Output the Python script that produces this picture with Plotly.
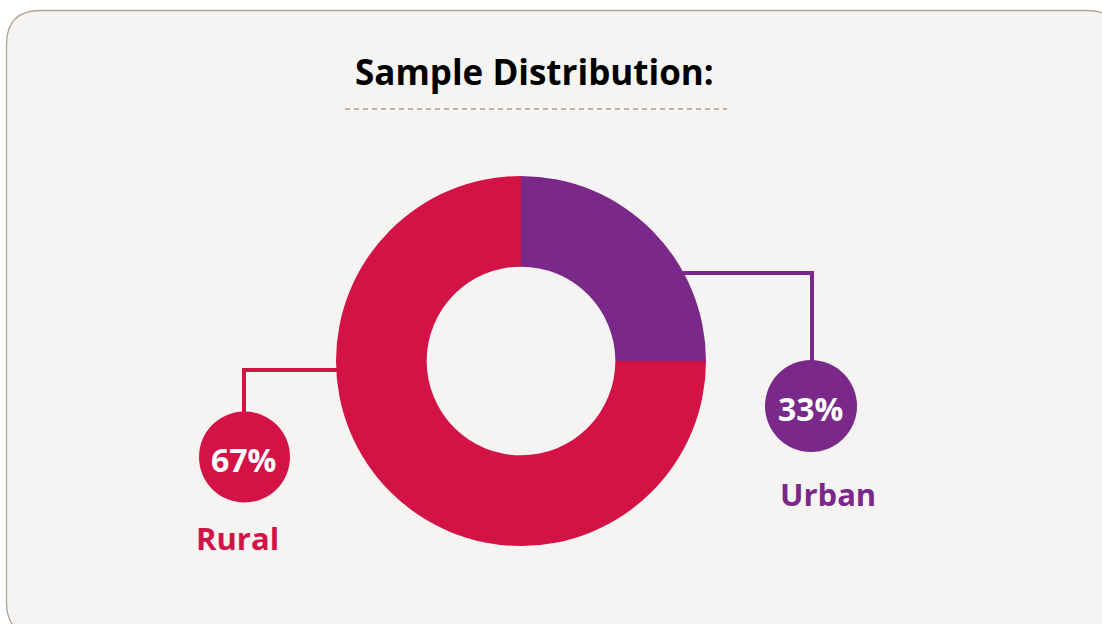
import plotly.graph_objects as go

# ---- data ----
categories = ["Urban", "Rural"]
share_labels = ["33%", "67%"]
drawn_shares = [25, 75]          # slice sizes as drawn in the reference
slice_colors = ["#7a2889", "#d31245"]
title_text = "Sample Distribution:"

W, H = 1102, 624
FONT = "Open Sans"

fig = go.Figure()

# donut geometry (pixels)
cx, cy, R = 521, 361, 185
fig.add_trace(go.Pie(
    labels=categories, values=drawn_shares, sort=False, direction="clockwise",
    rotation=0, hole=0.51, textinfo="none", hoverinfo="skip", showlegend=False,
    marker=dict(colors=slice_colors, line=dict(width=0)),
    domain=dict(x=[(cx - R) / W, (cx + R) / W], y=[(H - cy - R) / H, (H - cy + R) / H]),
))

shapes = []
# card
x0, y0, x1, y1, r = 6.5, 10.5, 1121, 636, 34
card = (f"M {x0+r},{y0} L {x1-r},{y0} Q {x1},{y0} {x1},{y0+r} L {x1},{y1-r} "
        f"Q {x1},{y1} {x1-r},{y1} L {x0+r},{y1} Q {x0},{y1} {x0},{y1-r} "
        f"L {x0},{y0+r} Q {x0},{y0} {x0+r},{y0} Z")
shapes.append(dict(type="path", path=card, xref="x", yref="y", layer="below",
                   fillcolor="#f6f4f2", line=dict(color="#ada397", width=1.3)))
# dashed rule under the title
shapes.append(dict(type="line", x0=345, x1=727, y0=109, y1=109, xref="x", yref="y",
                   line=dict(color="#a89a8f", width=1.6, dash="5px,4px")))

# connectors + bubbles
callouts = [
    # (index, path, circle center, radius, label pos)
    (0, "M 683,273 L 812,273 L 812,362", (811, 406), 46, (828, 494)),
    (1, "M 338,370 L 244,370 L 244,413", (244.5, 457), 45.5, (237, 538)),
]
annotations = []
for i, path, (ccx, ccy), cr, (lx, ly) in callouts:
    col = slice_colors[i]
    shapes.append(dict(type="path", path=path, xref="x", yref="y",
                       line=dict(color=col, width=4)))
    shapes.append(dict(type="circle", xref="x", yref="y", x0=ccx - cr, x1=ccx + cr,
                       y0=ccy - cr, y1=ccy + cr, fillcolor=col, line=dict(width=0)))
    annotations.append(dict(x=ccx - 1, y=ccy + 2, xref="x", yref="y", text=f"<b>{share_labels[i]}</b>",
                            showarrow=False, font=dict(family=FONT, size=32, color="white")))
    annotations.append(dict(x=lx, y=ly, xref="x", yref="y", text=f"<b>{categories[i]}</b>",
                            showarrow=False, font=dict(family=FONT, size=31, color=col)))

annotations.append(dict(x=534, y=71, xref="x", yref="y", text=f"<b>{title_text}</b>",
                        showarrow=False, font=dict(family=FONT, size=35, color="#000000")))

fig.update_layout(
    width=W, height=H, margin=dict(l=0, r=0, t=0, b=0),
    paper_bgcolor="white", plot_bgcolor="rgba(0,0,0,0)",
    xaxis=dict(range=[0, W], visible=False, fixedrange=True),
    yaxis=dict(range=[H, 0], visible=False, fixedrange=True),
    shapes=shapes, annotations=annotations,
)

fig.write_html("out.html", config={"displayModeBar": False},
               post_script="document.body.style.margin='0px';document.body.style.overflow='hidden';")
